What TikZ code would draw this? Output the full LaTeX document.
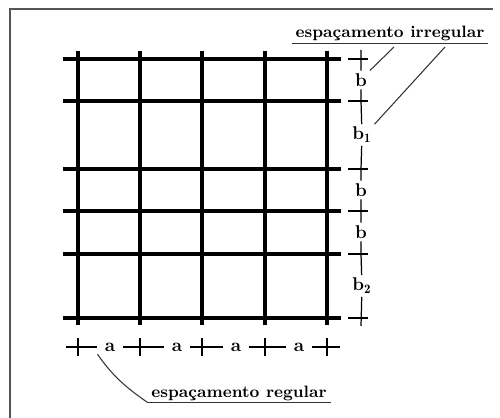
\documentclass[tikz,border=0pt]{standalone}
\usepackage{fontspec}
\usepackage{tikz}
\definecolor{framegray}{HTML}{555555}
\definecolor{leadgray}{HTML}{333333}

\begin{document}
\begin{tikzpicture}[x=0.02cm,y=-0.02cm,
  bar/.style={line width=2.3pt,line cap=butt},
  dimline/.style={line width=0.7pt},
  leader/.style={leadgray,line width=0.6pt},
  lbl/.style={font=\bfseries\fontsize{10.5}{12}\selectfont,inner sep=1.5pt},
  title/.style={font=\bfseries\fontsize{9.4}{11}\selectfont,anchor=base,
    inner xsep=2pt,inner ysep=1pt}]
\useasboundingbox (0,0) rectangle (500,418);
% ---- frame (only top and left edges show) ------------------------------
\draw[framegray,line width=1.1pt] (493,9) -- (10,9) -- (10,418);

% ---- the grid: 5 bars at a, 6 bars at b / b1 / b2 -----------------------
\draw[bar] (78,51) -- (78,325);
\draw[bar] (140,51) -- (140,325);
\draw[bar] (202,51) -- (202,325);
\draw[bar] (265,51) -- (265,325);
\draw[bar] (327,51) -- (327,325);
\draw[bar] (63,59) -- (341,59);
\draw[bar] (63,101) -- (341,101);
\draw[bar] (63,169) -- (341,169);
\draw[bar] (63,211) -- (341,211);
\draw[bar] (63,254) -- (341,254);
\draw[bar] (63,318) -- (341,318);

% ---- right dimension: irregular spacing ---------------------------------
\node[lbl] (bA) at (361,80) {b};
\node[lbl] (bB) at (362,135) {b$_{\mathbf{1}}$};
\node[lbl] (bC) at (361,190) {b};
\node[lbl] (bD) at (361,232) {b};
\node[lbl] (bE) at (362,286) {b$_{\mathbf{2}}$};
\draw[dimline] (361,50) -- (bA) -- (361,101) -- (bB) -- (361,169) -- (bC)
  -- (361,211) -- (bD) -- (361,254) -- (bE) -- (361,326);
\draw[dimline] (348,59) -- (368,59);
\draw[dimline] (348,101) -- (368,101);
\draw[dimline] (348,169) -- (368,169);
\draw[dimline] (348,211) -- (368,211);
\draw[dimline] (348,254) -- (368,254);
\draw[dimline] (348,318) -- (368,318);

% ---- bottom dimension: regular spacing ----------------------------------
\node[lbl,inner xsep=4pt] (aA) at (110,347) {a};
\node[lbl,inner xsep=4pt] (aB) at (177,347) {a};
\node[lbl,inner xsep=4pt] (aC) at (236,347) {a};
\node[lbl,inner xsep=4pt] (aD) at (299,347) {a};
\draw[dimline] (66,347) -- (aA) -- (140,347) -- (aB) -- (202,347) -- (aC)
  -- (265,347) -- (aD) -- (340,347);
\draw[dimline] (78,338) -- (78,356);
\draw[dimline] (140,338) -- (140,356);
\draw[dimline] (202,338) -- (202,356);
\draw[dimline] (265,338) -- (265,356);
\draw[dimline] (327,338) -- (327,356);

% ---- captions and their leaders -----------------------------------------
\node[title] (irr) at (390,38) {espaçamento irregular};
\draw[leader] (irr.south west) -- (irr.south east);
\coordinate (irrA) at (394,47);
\coordinate (irrB) at (445,47);
\draw[leader] (irrA) -- (bA.north east);
\draw[leader] (irrB) -- (bB.north east);

\node[title] (reg) at (239,397) {espaçamento regular};
\draw[leader] (reg.south west) -- (reg.south east);
\draw[leader] (aA.south west) to[out=-55,in=145] (reg.south west);
\end{tikzpicture}
\end{document}
